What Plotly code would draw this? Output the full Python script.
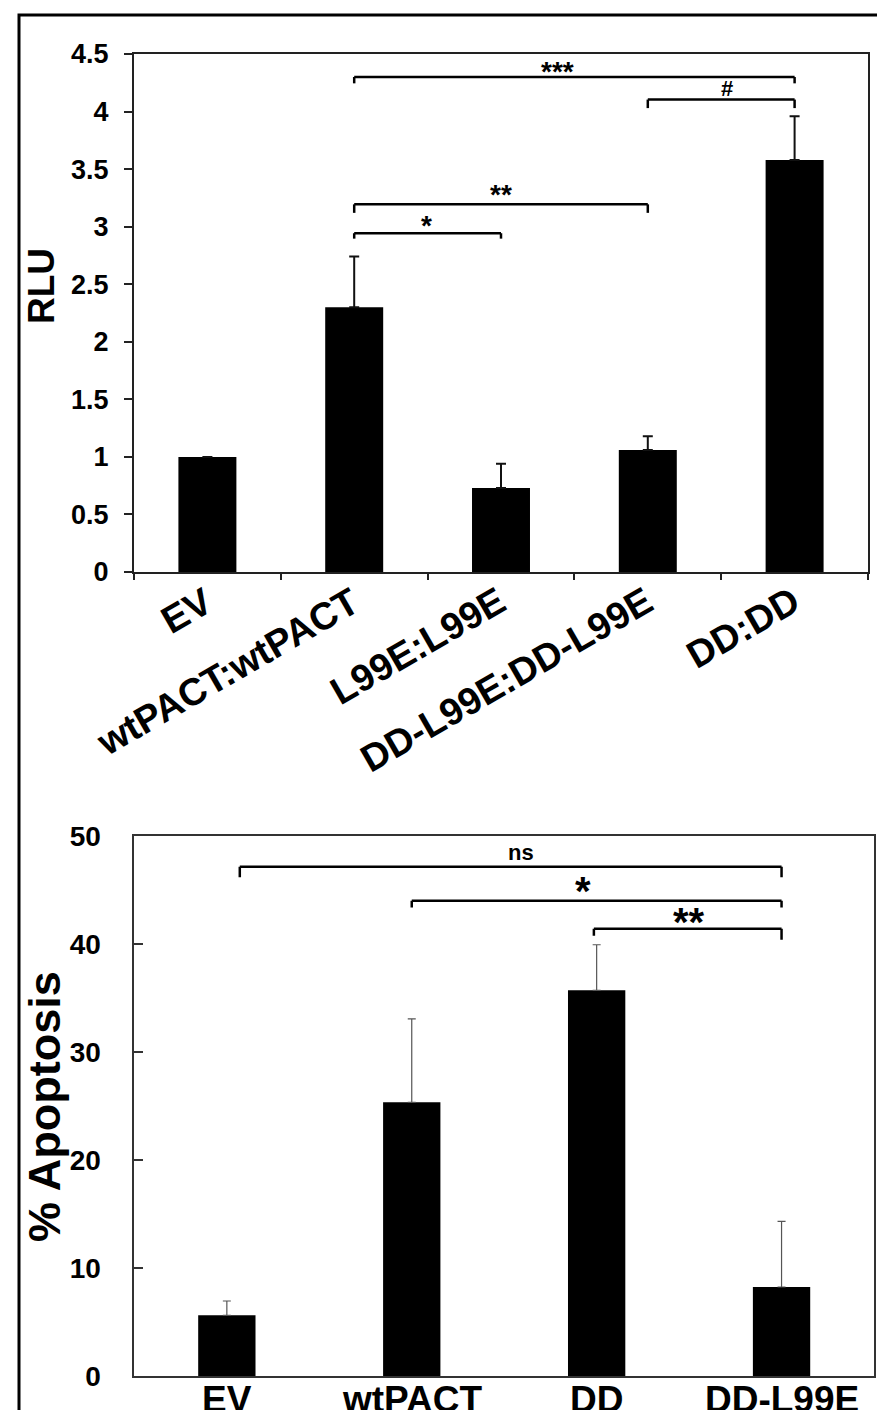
import plotly.graph_objects as go

# ---------------- data ----------------
top_categories = ["EV", "wtPACT:wtPACT", "L99E:L99E", "DD-L99E:DD-L99E", "DD:DD"]
top_values = [1.00, 2.30, 0.73, 1.06, 3.58]
top_errors = [0.00, 0.44, 0.21, 0.12, 0.38]

bottom_categories = ["EV", "wtPACT", "DD", "DD-L99E"]
bottom_values = [5.65, 25.37, 35.74, 8.27]
bottom_errors = [1.32, 7.73, 4.22, 6.08]

# significance brackets: (x_start, x_end, y_bar, y_leg_left, y_leg_right, label, text_x, text_y)
top_brackets = [
    (1.0, 4.0, 4.30, 4.245, 4.245, "***", 2.385, 4.368),
    (3.0, 4.0, 4.104, 4.03, 4.03, "#", 3.54, 4.203),
    (1.0, 3.0, 3.194, 3.12, 3.12, "**", 2.0, 3.304),
    (1.0, 2.0, 2.943, 2.896, 2.896, "*", 1.49, 3.035),
]
bottom_brackets = [
    (0.07, 3.0, 47.19, 46.2, 46.2, "ns", 1.59, 48.3),
    (1.0, 3.0, 44.04, 43.4, 43.4, "*", 1.925, 45.3),
    (1.985, 3.0, 41.44, 40.8, 40.43, "**", 2.50, 42.45),
]

W, H = 885, 1410
FONT = "Liberation Sans, Arial, sans-serif"

fig = go.Figure()

fig.add_trace(go.Bar(
    x=top_categories, y=top_values, width=0.395,
    marker=dict(color="black", line=dict(width=0)),
    error_y=dict(type="data", symmetric=False, array=top_errors,
                 arrayminus=[0] * len(top_errors),
                 color="#111", thickness=2, width=5),
    xaxis="x", yaxis="y", showlegend=False,
))
fig.add_trace(go.Bar(
    x=bottom_categories, y=bottom_values, width=0.31,
    marker=dict(color="black", line=dict(width=0)),
    error_y=dict(type="data", symmetric=False, array=bottom_errors,
                 arrayminus=[0] * len(bottom_errors),
                 color="#555", thickness=1.2, width=4),
    xaxis="x2", yaxis="y2", showlegend=False,
))

def px_x(p):
    return p / W

def px_y(p):
    return 1 - p / H

fig.update_layout(
    width=W, height=H,
    margin=dict(l=0, r=0, t=0, b=0, autoexpand=False),
    paper_bgcolor="white", plot_bgcolor="white",
    font=dict(family=FONT, color="black"),
    xaxis=dict(
        domain=[px_x(126), px_x(860)], anchor="y",
        type="category", tickson="boundaries",
        range=[-0.5, len(top_categories) - 0.5], autorange=False,
        ticks="outside", ticklen=6, tickwidth=1.5, tickcolor="#222",
        showline=True, linecolor="#222", linewidth=2, mirror=True,
        showticklabels=False,
        showgrid=False, automargin=False,
    ),
    yaxis=dict(
        domain=[px_y(564), px_y(46)], anchor="x",
        range=[0, 4.5], autorange=False,
        tickvals=[0, 0.5, 1, 1.5, 2, 2.5, 3, 3.5, 4, 4.5],
        ticktext=["0", "0.5", "1", "1.5", "2", "2.5", "3", "3.5", "4", "4.5"],
        ticks="outside", ticklen=8, tickwidth=1.5, tickcolor="#222",
        ticklabelstandoff=10,
        showline=True, linecolor="#222", linewidth=2, mirror=True,
        tickfont=dict(family=FONT, size=27, weight="bold", color="black"),
        showgrid=False, zeroline=False, automargin=False,
    ),
    xaxis2=dict(
        domain=[px_x(126.4), px_x(866)], anchor="y2",
        type="category",
        range=[-0.5, len(bottom_categories) - 0.5], autorange=False,
        ticks="",
        showline=True, linecolor="#333", linewidth=2, mirror=True,
        showticklabels=False,
        showgrid=False, automargin=False,
    ),
    yaxis2=dict(
        domain=[px_y(1368.3), px_y(828.3)], anchor="x2",
        range=[0, 50], autorange=False, tickvals=[0, 10, 20, 30, 40, 50],
        ticks="inside", ticklen=9, tickwidth=1.5, tickcolor="#333",
        ticklabelstandoff=26,
        showline=True, linecolor="#333", linewidth=2, mirror=True,
        tickfont=dict(family=FONT, size=28, weight="bold", color="black"),
        showgrid=False, zeroline=False, automargin=False,
    ),
)

shapes = []
annotations = []

def label_font(label, star_size, other_size):
    if label.startswith("*"):
        return star_size, -0.1 * star_size
    if label == "ns":
        return other_size, 2
    return other_size, 0

def add_brackets(brackets, xref, yref, star_size, other_size, lw):
    for (x0, x1, yb, yl0, yl1, label, tx, ty) in brackets:
        shapes.append(dict(type="line", xref=xref, yref=yref, x0=x0, x1=x1, y0=yb, y1=yb,
                           line=dict(color="black", width=lw)))
        shapes.append(dict(type="line", xref=xref, yref=yref, x0=x0, x1=x0, y0=yb, y1=yl0,
                           line=dict(color="black", width=lw)))
        shapes.append(dict(type="line", xref=xref, yref=yref, x0=x1, x1=x1, y0=yb, y1=yl1,
                           line=dict(color="black", width=lw)))
        size, shift = label_font(label, star_size, other_size)
        annotations.append(dict(xref=xref, yref=yref, x=tx, y=ty, text=label,
                                showarrow=False, yanchor="middle", xanchor="center",
                                yshift=shift,
                                font=dict(family=FONT, size=size, weight="bold", color="black")))

add_brackets(top_brackets, "x", "y", 28, 22, 2.5)
add_brackets(bottom_brackets, "x2", "y2", 40, 22, 2.5)

# category labels (rotated on the top chart, horizontal on the bottom chart)
for i, cat in enumerate(top_categories):
    annotations.append(dict(xref="x", yref="paper", x=i, y=px_y(569), text=cat,
                            textangle=-30, showarrow=False, xanchor="right", yanchor="top",
                            xshift=14,
                            font=dict(family=FONT, size=38, weight="bold", color="black")))
for i, cat in enumerate(bottom_categories):
    annotations.append(dict(xref="x2", yref="paper", x=i, y=px_y(1369), text=cat,
                            showarrow=False, xanchor="center", yanchor="top",
                            font=dict(family=FONT, size=37, weight="bold", color="black")))

# axis titles
annotations.append(dict(xref="paper", yref="paper", x=px_x(34), y=px_y(278), text="RLU",
                        textangle=-90, showarrow=False, xanchor="center", yanchor="middle",
                        font=dict(family=FONT, size=37, weight="bold", color="black")))
annotations.append(dict(xref="paper", yref="paper", x=px_x(36), y=px_y(1099), text="% Apoptosis",
                        textangle=-90, showarrow=False, xanchor="center", yanchor="middle",
                        font=dict(family=FONT, size=45, weight="bold", color="black")))

# outer frame
shapes.append(dict(type="rect", xref="paper", yref="paper",
                   x0=px_x(11), x1=px_x(883), y0=-0.01, y1=px_y(7),
                   line=dict(color="black", width=3)))

fig.update_layout(shapes=shapes, annotations=annotations)

fig.write_html("out.html")
